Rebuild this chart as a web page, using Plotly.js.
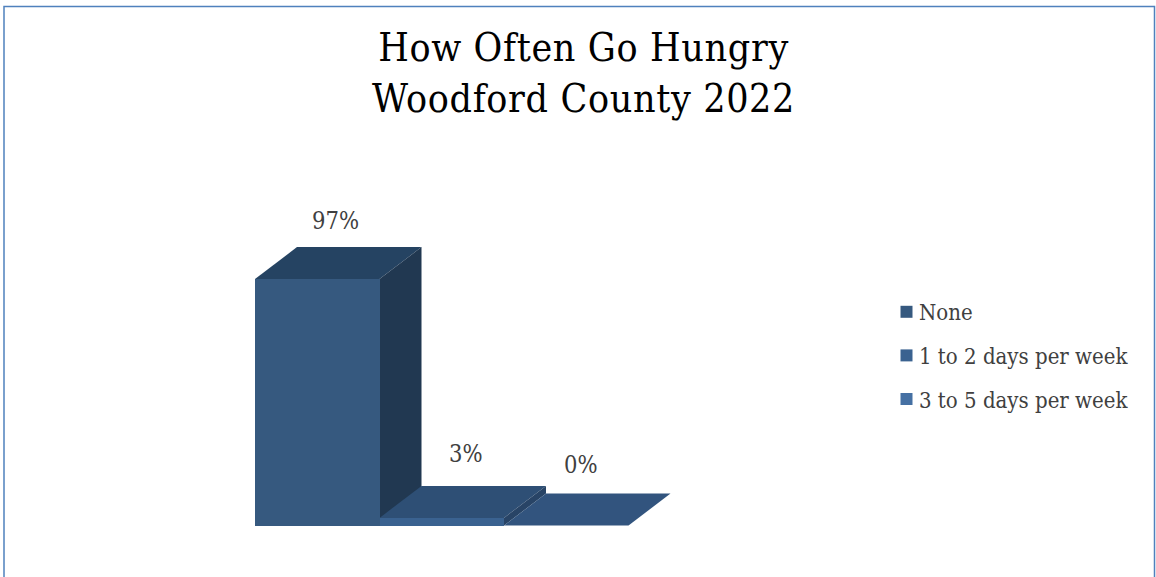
<!DOCTYPE html>
<html>
<head>
<meta charset="utf-8">
<script src="https://cdn.plot.ly/plotly-3.0.1.min.js"></script>
<style>
html,body{margin:0;padding:0;background:#fff;overflow:hidden}
#chart{width:1156px;height:577px}
.legend .layers{transform:translate(7.5px,0)}
.gtitle{letter-spacing:.65px}
</style>
</head>
<body>
<div id="chart"></div>
<script>
const categories = ["None", "1 to 2 days per week", "3 to 5 days per week"];
const values = [97, 3, 0];
const frontColors = ["#36597F", "#3A6290", "#4570A3"];
const topColors = ["#254362", "#2E4F75", "#32547E"];
const sideColors = ["#213851", "#284466", "#2A4A70"];
const labelShifts = [[18.5, 58], [24, 64], [14.5, 61]];

const W = 1156, H = 577;
const pxPerX = 124.5, pxPerY = 2.54;
const depthX = 42 / pxPerX, depthY = 32 / pxPerY;
const box = {l: 200, r: 800, t: 150, b: 550};
const x0px = 255, y0px = 525.5;
const xRange = [-0.5 - (x0px - box.l) / pxPerX, -0.5 + (box.r - x0px) / pxPerX];
const yRange = [-(box.b - y0px) / pxPerY, (y0px - box.t) / pxPerY];
const F = "'DejaVu Serif Condensed', 'DejaVu Serif', serif";

const traces = [];
values.forEach((v, i) => {
  const L = i - 0.5, R = i + 0.5;
  traces.push({
    type: "scatter", mode: "lines", fill: "toself", fillcolor: topColors[i],
    line: {width: 0}, showlegend: false, hoverinfo: "skip",
    x: [L, R, R + depthX, L + depthX, L],
    y: [v, v, v + depthY, v + depthY, v]
  });
  if (v > 0) traces.push({
    type: "scatter", mode: "lines", fill: "toself", fillcolor: sideColors[i],
    line: {width: 0}, showlegend: false, hoverinfo: "skip",
    x: [R, R + depthX, R + depthX, R, R],
    y: [0, depthY, v + depthY, v, 0]
  });
});
categories.forEach((c, i) => {
  traces.push({
    type: "bar", name: c, legendgroup: c, x: [i], y: [values[i]], width: 1,
    xaxis: "x2", yaxis: "y2",
    marker: {color: frontColors[i], line: {width: 0}},
    hovertemplate: c + ": %{y}%<extra></extra>"
  });
});

const hiddenAxis = {visible: false, fixedrange: true, showgrid: false, zeroline: false};
const layout = {
  width: W, height: H, autosize: false,
  margin: {l: 0, r: 0, t: 0, b: 0, pad: 0},
  paper_bgcolor: "#fff", plot_bgcolor: "rgba(0,0,0,0)",
  barmode: "overlay", bargap: 0,
  title: {text: "How Often Go Hungry<br>Woodford County 2022", x: 583.5 / W, xanchor: "center",
          y: 1 - 61 / H, yanchor: "middle", font: {family: F, size: 39, color: "#000"}},
  xaxis: {...hiddenAxis, domain: [box.l / W, box.r / W], range: xRange},
  yaxis: {...hiddenAxis, domain: [1 - box.b / H, 1 - box.t / H], range: yRange},
  xaxis2: {...hiddenAxis, domain: [box.l / W, box.r / W], range: xRange, overlaying: "x"},
  yaxis2: {...hiddenAxis, domain: [1 - box.b / H, 1 - box.t / H], range: yRange, overlaying: "y"},
  legend: {x: 879 / W, xanchor: "left", y: 1 - 291 / H, yanchor: "top", orientation: "v",
           traceorder: "grouped", tracegroupgap: 12, borderwidth: 0, bgcolor: "rgba(0,0,0,0)",
           font: {family: F, size: 22, color: "#404040"}, itemclick: false, itemdoubleclick: false},
  annotations: values.map((v, i) => ({
    x: i, y: v, xref: "x", yref: "y", text: v + "%", showarrow: false,
    xshift: labelShifts[i][0], yshift: labelShifts[i][1],
    font: {family: F, size: 23.5, color: "#404040"}
  })),
  shapes: [{type: "rect", xref: "paper", yref: "paper", x0: 4 / W, x1: 1154.5 / W,
            y0: -0.2, y1: 1 - 6.5 / H, line: {color: "#4F81BD", width: 1.5}, layer: "below"}]
};
Plotly.newPlot("chart", traces, layout, {displayModeBar: false, staticPlot: false});
</script>
</body>
</html>
